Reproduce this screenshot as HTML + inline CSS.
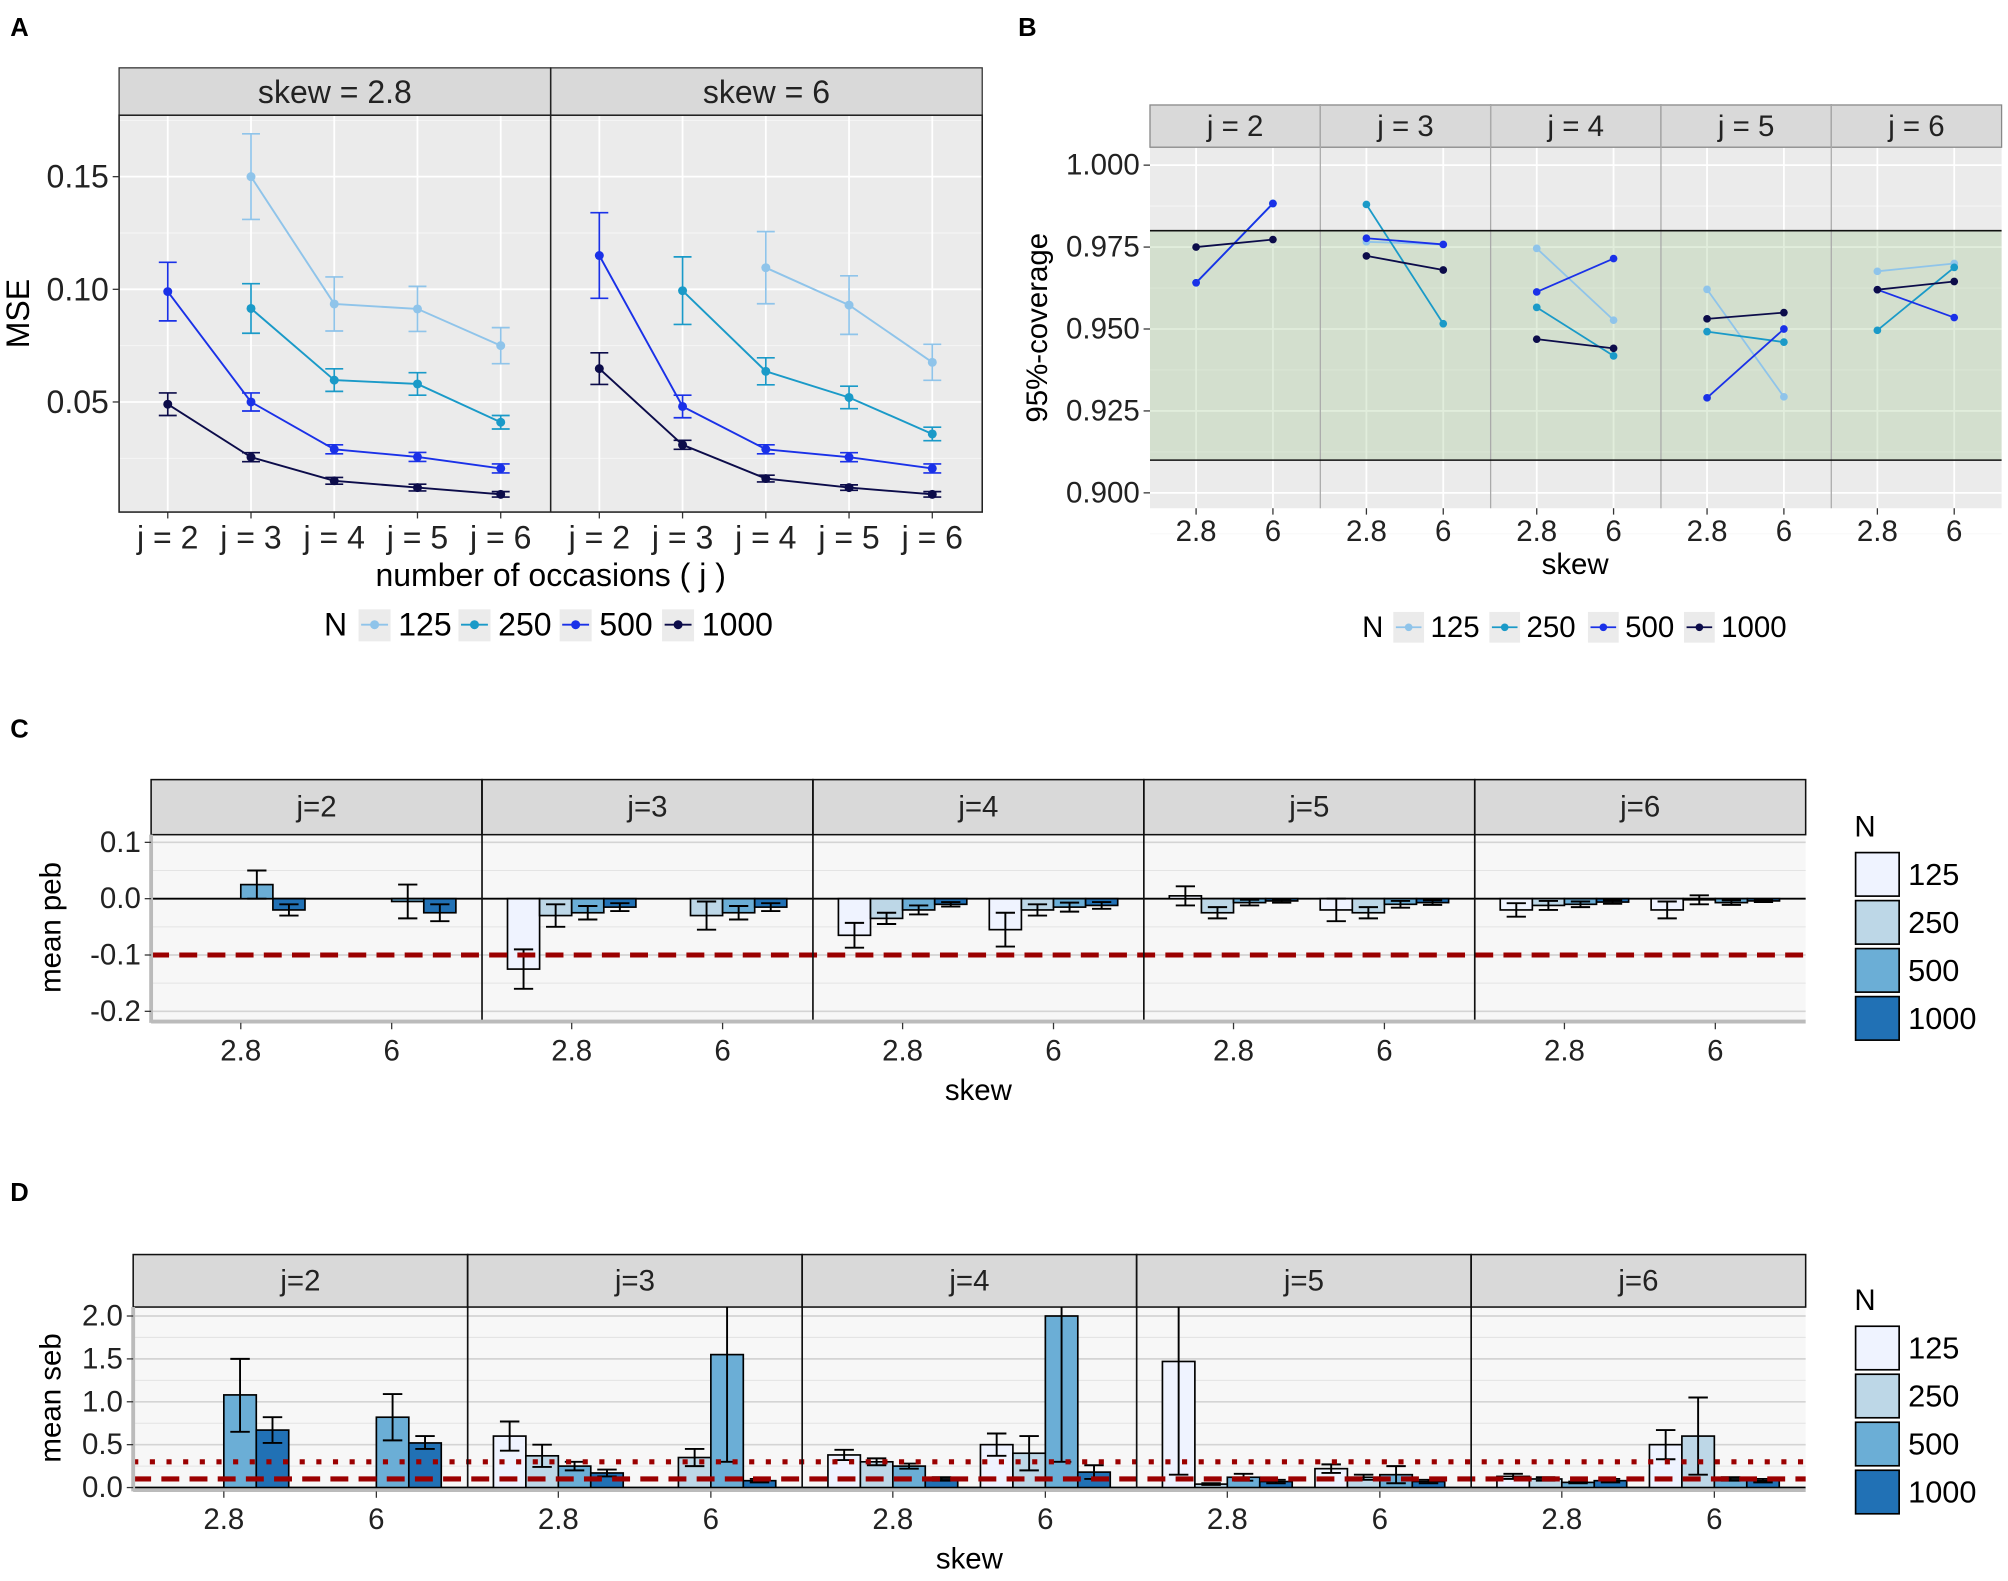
<!DOCTYPE html>
<html><head><meta charset="utf-8"><style>
html,body{margin:0;padding:0;background:#fff;}
svg{display:block;font-family:"Liberation Sans",Arial,sans-serif;}
</style></head><body>
<svg id="fig" xmlns="http://www.w3.org/2000/svg" width="2008" height="1581" viewBox="0 0 1568 1235" preserveAspectRatio="none">
<defs>
<clipPath id="clipD"><rect x="104" y="1021" width="1306" height="144"/></clipPath>
</defs>
</svg>
<script>
// ---------- Panel A data (MSE) ----------
const aCats = [2,3,4,5,6];
const aNs = ['125','250','500','1000'];
const aColors = ['#8fc4ea','#1a9ac8','#1a31e8','#0c0c4a'];
const aFacets = ['skew = 2.8','skew = 6'];
const aMse28 = [[null,0.150,0.0935,0.0913,0.075],[null,0.0915,0.0597,0.058,0.041],[0.099,0.050,0.029,0.0256,0.0205],[0.049,0.0255,0.015,0.012,0.009]];
const aErr28 = [[0,0.019,0.012,0.010,0.008],[0,0.011,0.005,0.005,0.003],[0.013,0.004,0.002,0.002,0.002],[0.005,0.002,0.0015,0.0015,0.0012]];
const aMse6 = [[null,null,0.1096,0.093,0.0676],[null,0.0994,0.0636,0.052,0.0358],[0.115,0.048,0.029,0.0255,0.0205],[0.0648,0.031,0.016,0.012,0.009]];
const aErr6 = [[0,0,0.016,0.013,0.008],[0,0.015,0.006,0.005,0.003],[0.019,0.005,0.002,0.002,0.002],[0.007,0.002,0.0015,0.0012,0.0012]];
const aYTicks = [0.05,0.10,0.15];
// ---------- Panel B data (coverage) ----------
const bFacets = ['j = 2','j = 3','j = 4','j = 5','j = 6'];
const bSkews = ['2.8','6'];
const bCov125 = [[0.9641,0.9883],[0.9766,0.9758],[0.9746,0.9527],[0.9621,0.9293],[0.9676,0.970]];
const bCov250 = [[0.9641,0.9883],[0.988,0.9516],[0.9566,0.9418],[0.9492,0.946],[0.9496,0.9688]];
const bCov500 = [[0.9641,0.9883],[0.9777,0.9758],[0.9613,0.9715],[0.929,0.950],[0.962,0.9535]];
const bCov1000 = [[0.975,0.9773],[0.9723,0.968],[0.9469,0.9441],[0.9531,0.955],[0.962,0.9645]];
const bYTicks = [0.900,0.925,0.950,0.975,1.000];
// ---------- Panel C data (peb) ----------
const cFacets = ['j=2','j=3','j=4','j=5','j=6'];
const cPeb = [[[null,null,0.025,-0.02],[null,null,-0.005,-0.025]],
  [[-0.125,-0.03,-0.025,-0.015],[null,-0.03,-0.025,-0.015]],
  [[-0.065,-0.035,-0.02,-0.01],[-0.055,-0.02,-0.015,-0.012]],
  [[0.005,-0.025,-0.007,-0.004],[-0.02,-0.025,-0.01,-0.007]],
  [[-0.02,-0.012,-0.01,-0.006],[-0.02,-0.002,-0.007,-0.004]]];
const cErr = [[[0,0,0.025,0.01],[0,0,0.03,0.015]],
  [[0.035,0.02,0.012,0.007],[0,0.025,0.012,0.007]],
  [[0.022,0.01,0.008,0.004],[0.03,0.01,0.008,0.006]],
  [[0.017,0.01,0.005,0.003],[0.02,0.01,0.006,0.004]],
  [[0.012,0.008,0.005,0.003],[0.015,0.008,0.004,0.002]]];
const cYTicks = [-0.2,-0.1,0.0,0.1];
const cYLabels = ['-0.2','-0.1','0.0','0.1'];
// ---------- Panel D data (seb) ----------
const dSeb = [[[null,null,1.08,0.67],[null,null,0.82,0.52]],
  [[0.6,0.37,0.25,0.17],[null,0.35,1.55,0.08]],
  [[0.38,0.3,0.25,0.1],[0.5,0.4,2.0,0.18]],
  [[1.47,0.04,0.12,0.07],[0.22,0.12,0.15,0.07]],
  [[0.13,0.1,0.06,0.08],[0.5,0.6,0.1,0.08]]];
const dLo = [[[0,0,0.65,0.52],[0,0,0.55,0.45]],
  [[0.43,0.24,0.2,0.13],[0,0.25,0.3,0.06]],
  [[0.32,0.26,0.22,0.08],[0.37,0.2,0.3,0.1]],
  [[0.15,0.03,0.08,0.05],[0.17,0.09,0.05,0.05]],
  [[0.1,0.08,0.05,0.06],[0.33,0.15,0.08,0.06]]];
const dHi = [[[0,0,1.5,0.82],[0,0,1.09,0.6]],
  [[0.77,0.5,0.3,0.21],[0,0.45,3.0,0.1]],
  [[0.44,0.34,0.28,0.12],[0.63,0.6,4.0,0.26]],
  [[3.0,0.05,0.16,0.09],[0.27,0.15,0.25,0.09]],
  [[0.16,0.12,0.07,0.1],[0.67,1.05,0.12,0.1]]];
const dYTicks = [0.0,0.5,1.0,1.5,2.0];
const fillN = ['#eff3ff','#bdd7e7','#6baed6','#2171b5'];

const NS='http://www.w3.org/2000/svg';
const svg=document.getElementById('fig');
function mk(tag,attrs,parent){const e=document.createElementNS(NS,tag);for(const k in attrs)e.setAttribute(k,attrs[k]);(parent||svg).appendChild(e);return e;}
function txt(x,y,s,size,anchor,parent,extra){const t=mk('text',Object.assign({x:x,y:y,'font-size':size,'text-anchor':anchor||'middle',fill:'#222','dominant-baseline':'central'},extra||{}),parent);t.textContent=s;return t;}

// Panel letters
[['A',8,22],['B',795,22],['C',8,570],['D',8,932]].forEach(p=>{
  const t=txt(p[1],p[2],p[0],20,'start',svg,{'font-weight':'bold',fill:'#000'});
  
  
});

// ================= Panel A =================
const gA=mk('g',{});


const yA=v=>314-(v-0.05)*1760;
const aX0=[93,430], aW=337;
const xA=(f,i)=>aX0[f]+38+i*65;
aFacets.forEach((fn,f)=>{
  const x0=aX0[f];
  const bg=mk('rect',{x:x0,y:90,width:aW,height:310,fill:'#ebebeb'},gA);
  
  
  [0.025,0.075,0.125,0.175].forEach(v=>mk('line',{x1:x0,x2:x0+aW,y1:yA(v),y2:yA(v),stroke:'#f7f7f7','stroke-width':0.7},gA));
  aYTicks.forEach(v=>mk('line',{x1:x0,x2:x0+aW,y1:yA(v),y2:yA(v),stroke:'#fff','stroke-width':1.4},gA));
  aCats.forEach((c,i)=>mk('line',{x1:xA(f,i),x2:xA(f,i),y1:90,y2:400,stroke:'#fff','stroke-width':1.4},gA));
  const st=mk('rect',{x:x0,y:53,width:aW,height:37,fill:'#d9d9d9',stroke:'#333','stroke-width':1},gA);
  
  
  txt(x0+aW/2,72,fn,25,'middle',gA);
  const series=f===0?aMse28:aMse6, errs=f===0?aErr28:aErr6;
  series.forEach((arr,n)=>{
    const pts=[];
    arr.forEach((v,i)=>{if(v!==null)pts.push([xA(f,i),yA(v),v,errs[n][i]]);});
    const pl=mk('polyline',{points:pts.map(p=>p[0]+','+p[1]).join(' '),fill:'none',stroke:aColors[n],'stroke-width':1.5},gA);
    
    
    pts.forEach(p=>{
      const y1=yA(p[2]+p[3]),y2=yA(p[2]-p[3]);
      mk('path',{d:`M${p[0]-7},${y1}H${p[0]+7}M${p[0]},${y1}V${y2}M${p[0]-7},${y2}H${p[0]+7}`,stroke:aColors[n],'stroke-width':1.3,fill:'none'},gA);
      const c=mk('circle',{cx:p[0],cy:p[1],r:3.5,fill:aColors[n]},gA);
      
      
    });
  });
  aCats.forEach((c,i)=>{mk('line',{x1:xA(f,i),x2:xA(f,i),y1:400,y2:405,stroke:'#333'},gA);txt(xA(f,i),420,'j = '+c,25,'middle',gA);});
});
mk('rect',{x:93,y:90,width:674,height:310,fill:'none',stroke:'#222','stroke-width':1.2},gA);
mk('line',{x1:430,x2:430,y1:53,y2:400,stroke:'#222','stroke-width':1.2},gA);
aYTicks.forEach(v=>{mk('line',{x1:88,x2:93,y1:yA(v),y2:yA(v),stroke:'#333'},gA);txt(85,yA(v),v.toFixed(2),25,'end',gA);});
const tA=txt(14,245,'MSE',25,'middle',gA,{transform:'rotate(-90 14 245)',fill:'#000'});


const xtA=txt(430,449,'number of occasions ( j )',25,'middle',gA,{fill:'#000'});


txt(262,488,'N',25,'middle',gA,{fill:'#000'});
[280,358,437,517].forEach((kx,n)=>{
  const g=mk('g',{},gA);
  
  
  mk('rect',{x:kx,y:476,width:25,height:25,fill:'#ebebeb'},g);
  mk('line',{x1:kx+2,x2:kx+23,y1:488,y2:488,stroke:aColors[n],'stroke-width':1.5},g);
  mk('circle',{cx:kx+12.5,cy:488,r:3.5,fill:aColors[n]},g);
  txt(kx+31,488,aNs[n],25,'start',g,{fill:'#000'});
});

// ================= Panel B =================
const gB=mk('g',{});


const yB=v=>129+(1-v)*2560;
const bW=133, xB=(f,s)=>898+f*bW+(s===0?36:96);
const bSeries=[bCov125,bCov250,bCov500,bCov1000];
bFacets.forEach((fn,f)=>{
  const x0=898+f*bW;
  mk('rect',{x:x0,y:115,width:bW,height:282,fill:'#ebebeb'},gB);
  [0.8875,0.9125,0.9375,0.9625,0.9875].forEach(v=>mk('line',{x1:x0,x2:x0+bW,y1:yB(v),y2:yB(v),stroke:'#f7f7f7','stroke-width':0.7},gB));
  bYTicks.forEach(v=>mk('line',{x1:x0,x2:x0+bW,y1:yB(v),y2:yB(v),stroke:'#fff','stroke-width':1.4},gB));
  [0,1].forEach(s=>mk('line',{x1:xB(f,s),x2:xB(f,s),y1:115,y2:397,stroke:'#fff','stroke-width':1.4},gB));
  const gr=mk('rect',{x:x0,y:yB(0.98),width:bW,height:yB(0.91)-yB(0.98),fill:'#9cc28c','fill-opacity':0.3},gB);
  
  
  const st=mk('rect',{x:x0,y:82,width:bW,height:33,fill:'#d9d9d9',stroke:'#888','stroke-width':1},gB);
  
  
  txt(x0+bW/2,99,fn,23,'middle',gB);
  bSeries.forEach((ser,n)=>{
    const v=ser[f];
    const l=mk('line',{x1:xB(f,0),y1:yB(v[0]),x2:xB(f,1),y2:yB(v[1]),stroke:aColors[n],'stroke-width':1.4},gB);
    
    
    [0,1].forEach(s=>{
      const c=mk('circle',{cx:xB(f,s),cy:yB(v[s]),r:3,fill:aColors[n]},gB);
      
      
    });
  });
  [0,1].forEach(s=>{mk('line',{x1:xB(f,s),x2:xB(f,s),y1:397,y2:402,stroke:'#333'},gB);txt(xB(f,s),415,bSkews[s],23,'middle',gB);});
  if(f>0)mk('line',{x1:x0,x2:x0,y1:82,y2:397,stroke:'#aaa','stroke-width':1},gB);
});
[0.98,0.91].forEach(v=>mk('line',{x1:898,x2:1563,y1:yB(v),y2:yB(v),stroke:'#111','stroke-width':1.2},gB));
bYTicks.forEach(v=>{mk('line',{x1:893,x2:898,y1:yB(v),y2:yB(v),stroke:'#333'},gB);txt(890,yB(v),v.toFixed(3),23,'end',gB);});
const tB=txt(810,256,'95%-coverage',23,'middle',gB,{transform:'rotate(-90 810 256)',fill:'#000'});


const xtB=txt(1230,441,'skew',23,'middle',gB,{fill:'#000'});


txt(1072,490,'N',23,'middle',gB,{fill:'#000'});
[1088,1163,1240,1315].forEach((kx,n)=>{
  const g=mk('g',{},gB);
  
  
  mk('rect',{x:kx,y:478,width:24,height:24,fill:'#ebebeb'},g);
  mk('line',{x1:kx+2,x2:kx+22,y1:490,y2:490,stroke:aColors[n],'stroke-width':1.4},g);
  mk('circle',{cx:kx+12,cy:490,r:3,fill:aColors[n]},g);
  txt(kx+29,490,aNs[n],23,'start',g,{fill:'#000'});
});

// ================= Bar panels (C & D) =================
function barPanel(cfg){
  const g=mk('g',{});
  
  
  const fw=(cfg.x1-cfg.x0)/5;
  const xc=(f,s)=>cfg.x0+f*fw+fw*(s===0?0.271:0.727);
  const bw=fw*0.097;
  cfg.facets.forEach((fn,f)=>{
    const x0=cfg.x0+f*fw;
    mk('rect',{x:x0,y:cfg.top,width:fw,height:cfg.bot-cfg.top,fill:'#f7f7f7'},g);
    cfg.minor.forEach(v=>mk('line',{x1:x0,x2:x0+fw,y1:cfg.y(v),y2:cfg.y(v),stroke:'#e4e4e4','stroke-width':0.8},g));
    cfg.ticks.forEach(v=>mk('line',{x1:x0,x2:x0+fw,y1:cfg.y(v),y2:cfg.y(v),stroke:'#d4d4d4','stroke-width':1.3},g));
    const st=mk('rect',{x:x0,y:cfg.stripTop,width:fw,height:cfg.top-cfg.stripTop,fill:'#d9d9d9',stroke:'#111','stroke-width':1.2},g);
    
    
    txt(x0+fw/2,(cfg.stripTop+cfg.top)/2,fn,23,'middle',g);
  });
  const gBars=mk('g',cfg.clip?{'clip-path':'url(#'+cfg.clip+')'}:{},g);
  mk('line',{x1:cfg.x0,x2:cfg.x1,y1:cfg.y(0),y2:cfg.y(0),stroke:'#000','stroke-width':1.4},gBars);
  cfg.facets.forEach((fn,f)=>{
    [0,1].forEach(s=>{
      for(let n=0;n<4;n++){
        const v=cfg.vals[f][s][n]; if(v===null)continue;
        const bx=xc(f,s)+(n-2)*bw;
        const y0=cfg.y(0),yv=cfg.y(v);
        const r=mk('rect',{x:bx,y:Math.min(y0,yv),width:bw,height:Math.abs(y0-yv),fill:fillN[n],stroke:'#000','stroke-width':1.3},gBars);
        
        
        const lo=cfg.lo(f,s,n),hi=cfg.hi(f,s,n);
        const cx=bx+bw/2,c=bw*0.3;
        mk('path',{d:`M${cx-c},${cfg.y(hi)}H${cx+c}M${cx},${cfg.y(hi)}V${cfg.y(lo)}M${cx-c},${cfg.y(lo)}H${cx+c}`,stroke:'#000','stroke-width':1.5,fill:'none'},gBars);
      }
    });
  });
  cfg.refs.forEach(rf=>{
    const l=mk('line',{x1:cfg.x0,x2:cfg.x1,y1:cfg.y(rf[0]),y2:cfg.y(rf[0]),stroke:'#9b0000','stroke-width':rf[2],'stroke-dasharray':rf[1]},g);
    
    
  });
  for(let f=1;f<5;f++)mk('line',{x1:cfg.x0+f*fw,x2:cfg.x0+f*fw,y1:cfg.stripTop,y2:cfg.bot,stroke:'#111','stroke-width':1.3},g);
  mk('line',{x1:cfg.x0,x2:cfg.x0,y1:cfg.top,y2:cfg.bot+2,stroke:'#bbb','stroke-width':3},g);
  mk('line',{x1:cfg.x0,x2:cfg.x1,y1:cfg.bot+1,y2:cfg.bot+1,stroke:'#bbb','stroke-width':3},g);
  cfg.ticks.forEach((v,i)=>{mk('line',{x1:cfg.x0-5,x2:cfg.x0,y1:cfg.y(v),y2:cfg.y(v),stroke:'#333'},g);txt(cfg.x0-8,cfg.y(v),cfg.labels[i],23,'end',g);});
  cfg.facets.forEach((fn,f)=>[0,1].forEach(s=>{mk('line',{x1:xc(f,s),x2:xc(f,s),y1:cfg.bot+2,y2:cfg.bot+7,stroke:'#333'},g);txt(xc(f,s),cfg.bot+24,bSkews[s],23,'middle',g);}));
  const yt=txt(40,(cfg.top+cfg.bot)/2,cfg.ytitle,23,'middle',g,{transform:`rotate(-90 40 ${(cfg.top+cfg.bot)/2})`,fill:'#000'});
  
  
  const xt=txt((cfg.x0+cfg.x1)/2,cfg.bot+55,'skew',23,'middle',g,{fill:'#000'});
  
  
  txt(1448,cfg.legTop-20,'N',23,'start',g,{fill:'#000'});
  for(let n=0;n<4;n++){
    const lg=mk('g',{},g);
    
    
    const ly=cfg.legTop+n*37.5;
    mk('rect',{x:1449,y:ly,width:34,height:34,fill:fillN[n],stroke:'#000','stroke-width':1.3},lg);
    txt(1490,ly+17,aNs[n],24,'start',lg,{fill:'#000'});
  }
}
barPanel({name:'panel-c-peb-chart',prefix:'panel-c',x0:118,x1:1410,stripTop:609,top:652,bot:797,
  y:v=>702-v*440,ticks:cYTicks,labels:cYLabels,minor:[-0.15,-0.05,0.05],facets:cFacets,vals:cPeb,
  lo:(f,s,n)=>cPeb[f][s][n]-cErr[f][s][n],hi:(f,s,n)=>cPeb[f][s][n]+cErr[f][s][n],
  refs:[[-0.1,'14 8',4]],ytitle:'mean peb',legTop:666});
barPanel({name:'panel-d-seb-chart',prefix:'panel-d',x0:104,x1:1410,stripTop:980,top:1021,bot:1163,clip:'clipD',
  y:v=>1162-v*67,ticks:dYTicks,labels:dYTicks.map(v=>v.toFixed(1)),minor:[0.25,0.75,1.25,1.75],facets:cFacets,vals:dSeb,
  lo:(f,s,n)=>dLo[f][s][n],hi:(f,s,n)=>dHi[f][s][n],
  refs:[[0.1,'14 8',4],[0.3,'4 9',4]],ytitle:'mean seb',legTop:1036});
</script>
</body></html>
